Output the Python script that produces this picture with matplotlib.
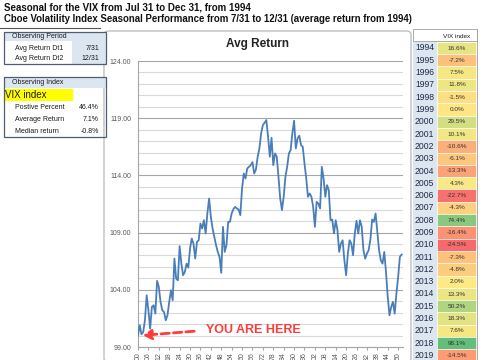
import matplotlib
matplotlib.use("Agg")
import matplotlib.pyplot as plt
import matplotlib.patches as mpatches
import numpy as np
from matplotlib.colors import LinearSegmentedColormap

# ---------------- data ----------------
avg_return = [
    100.02, 100.90, 100.11, 100.31, 101.33, 103.52, 102.21, 100.60, 102.50, 102.65,
    101.92, 104.78, 104.25, 102.94, 102.21, 102.06, 101.33, 101.77, 102.94, 103.96,
    103.08, 106.73, 104.98, 104.83, 107.81, 106.29, 105.27, 105.56, 106.29, 105.94,
    107.61, 108.48, 108.04, 106.73, 108.19, 108.33, 109.79, 109.36, 110.08, 108.92,
    110.67, 111.98, 110.38, 109.36, 108.63, 107.90, 107.31, 106.88, 105.48, 109.50,
    107.31, 107.90, 109.94, 109.94, 110.67, 111.05, 111.25, 111.11, 111.02, 110.52,
    112.86, 114.17, 113.73, 114.61, 114.75, 114.90, 115.16, 114.17, 114.52, 115.63,
    116.36, 117.67, 118.40, 118.60, 118.84, 117.38, 115.63, 117.29, 114.90, 115.92,
    115.63, 113.88, 111.98, 110.96, 112.13, 113.88, 114.75, 115.92, 116.21, 117.67,
    118.78, 116.36, 117.23, 117.47, 116.65, 116.50, 115.04, 113.73, 112.13, 112.42,
    112.13, 111.25, 109.50, 111.69, 111.54, 111.11, 114.75, 113.73, 112.13, 113.15,
    112.71, 110.08, 110.14, 108.92, 110.08, 109.21, 107.31, 108.04, 108.33, 106.58,
    105.27, 107.17, 108.33, 108.04, 107.02, 108.92, 110.03, 108.92, 110.08, 109.50,
    107.46, 106.73, 107.17, 107.46, 108.39, 110.14, 109.94, 110.67, 109.06, 107.46,
    106.58, 106.29, 107.31, 105.56, 103.38, 101.77, 102.50, 102.94, 101.92, 103.67,
    105.13, 106.88, 107.08,
]
x_tick_labels = ["00", "06", "12", "18", "24", "30", "36", "42", "48", "54", "60", "66", "72",
                 "78", "84", "90", "96", "02", "08", "14", "20", "26", "32", "38", "44", "50"]
y_ticks = [99, 104, 109, 114, 119, 124]

years = list(range(1994, 2020))
vix_returns = [16.6, -7.2, 7.5, 11.8, -1.5, 0.0, 29.5, 10.1, -10.6, -6.1, -13.3, 4.3,
               -22.7, -4.3, 74.4, -16.4, -24.5, -7.3, -4.8, 2.0, 13.3, 50.2, 18.3,
               7.6, 98.1, -14.5]

period_rows = [("Avg Return Dt1", "7/31"), ("Avg Return Dt2", "12/31")]
index_rows = [("Postive Percent", "46.4%"), ("Average Return", "7.1%"), ("Median return", "-0.8%")]

title1 = "Seasonal for the VIX from Jul 31 to Dec 31, from 1994"
title2 = "Cboe Volatility Index Seasonal Performance from 7/31 to 12/31 (average return from 1994)"

# ---------------- figure ----------------
W, H = 485, 360
fig = plt.figure(figsize=(W / 100, H / 100), dpi=100)
fig.patch.set_facecolor("white")
FONT = ["Liberation Sans", "DejaVu Sans"]
plt.rcParams["font.family"] = FONT


def fx(x):
    return x / W


def fy(y):
    return 1 - y / H


def rect(x0, y0, x1, y1, fc="none", ec="none", lw=0.8, z=1):
    r = mpatches.Rectangle((fx(x0), fy(y1)), (x1 - x0) / W, (y1 - y0) / H,
                           transform=fig.transFigure, facecolor=fc, edgecolor=ec,
                           linewidth=lw, zorder=z)
    fig.add_artist(r)


def txt(x, y, s, size=6, ha="left", color="#1a1a1a", weight="normal", z=5):
    fig.text(fx(x), fy(y), s, fontsize=size, ha=ha, va="center", color=color,
             weight=weight, zorder=z)


# titles
txt(4, 7, title1, size=7.0, weight="bold", color="#111111")
txt(4, 19, title2, size=6.9, weight="bold", color="#111111")
fig.add_artist(plt.Line2D([fx(0), fx(100)], [fy(27.5), fy(27.5)], transform=fig.transFigure,
                          color="#555555", lw=0.8))

# left tables
LBLUE = "#dce6f1"
BORDER = "#4f5d73"
# table 1
rect(4, 32, 106, 41, fc=LBLUE)
rect(72, 41, 106, 64, fc=LBLUE)
rect(4, 32, 106, 64, ec=BORDER, lw=0.9, z=3)
txt(12, 36.5, "Observing Period", size=5.0)
for i, (lab, val) in enumerate(period_rows):
    yy = 49 + 10 * i
    txt(15, yy, lab, size=5.0)
    txt(99, yy, val, size=5.0, ha="right")
# table 2
rect(4, 77, 106, 88, fc=LBLUE)
rect(4, 89, 73, 101, fc="#ffff00")
rect(4, 77, 106, 137, ec=BORDER, lw=0.9, z=3)
txt(12, 83, "Observing Index", size=5.0)
txt(5, 95, "VIX index", size=7)
for i, (lab, val) in enumerate(index_rows):
    yy = 107 + 12.2 * i
    txt(15, yy, lab, size=5.0)
    txt(99, yy, val, size=5.0, ha="right")

# chart panel
panel = mpatches.FancyBboxPatch((fx(104), fy(362)), (411 - 104) / W, (362 - 31) / H,
                                boxstyle="round,pad=0,rounding_size=0.01",
                                transform=fig.transFigure, facecolor="white",
                                edgecolor="#bfbfbf", linewidth=1.0, zorder=-1)
fig.add_artist(panel)
txt(257, 44, "Avg Return", size=8.5, ha="center", weight="bold", color="#222222")

ax = fig.add_axes([fx(138), fy(347), (403 - 138) / W, (347 - 61) / H])
ax.set_zorder(2)
ax.set_facecolor("none")
xs = np.arange(len(avg_return))
ax.plot(xs, avg_return, color="#4a7ebb", lw=1.3, zorder=3)
ax.set_ylim(99, 124)
ax.set_xlim(0, len(avg_return) - 0.2)
ax.set_yticks(y_ticks)
ax.set_yticklabels([f"{v:.2f}" for v in y_ticks])
ax.set_yticks(np.arange(99, 125, 1), minor=True)
ax.grid(axis="y", which="major", color="#a6a6a6", lw=0.8)
ax.grid(axis="y", which="minor", color="#d9d9d9", lw=0.8)
ax.set_xticks(np.arange(0, len(avg_return), 6))
ax.set_xticklabels(x_tick_labels[:len(ax.get_xticks())], rotation=90)
ax.tick_params(axis="y", which="both", length=0, labelsize=5, labelcolor="#595959", pad=5)
ax.tick_params(axis="x", length=2, color="#a6a6a6", labelsize=5, labelcolor="#595959", pad=2)
for s in ["top", "right"]:
    ax.spines[s].set_visible(False)
ax.spines["left"].set_color("#a6a6a6")
ax.spines["bottom"].set_color("#a6a6a6")

# YOU ARE HERE annotation
ax.annotate("", xy=(1.2, 100.0), xytext=(34, 100.4),
            arrowprops=dict(arrowstyle="-|>,head_length=0.5,head_width=0.3", color="#ff3b3b",
                            lw=2, linestyle=(0, (3, 1.5))), zorder=4)
ax.text(39, 100.45, "YOU ARE HERE", color="#ff3b3b", fontsize=9, weight="bold",
        va="center", ha="left")

# right table
cmap = LinearSegmentedColormap.from_list("ryg", ["#f8696b", "#ffeb84", "#63be7b"])
vals = np.array(vix_returns)
vmin, vmax, vmid = vals.min(), vals.max(), np.median(vals)


def color_for(v):
    if v <= vmid:
        t = 0.5 * (v - vmin) / (vmid - vmin)
    else:
        t = 0.5 + 0.5 * (v - vmid) / (vmax - vmid)
    return cmap(t)


rect(413, 29, 477, 41, fc="white", ec="#a0a0a0", lw=0.6)
txt(457, 36, "VIX index", size=4.6, ha="center")
row_h = 12.3
for i, (yr, v) in enumerate(zip(years, vix_returns)):
    yc = 48 + row_h * i
    rect(413, yc - row_h / 2, 437, yc + row_h / 2, fc=LBLUE)
    rect(437, yc - row_h / 2, 476, yc + row_h / 2, fc=color_for(v), ec="white", lw=0.4)
    txt(415, yc, str(yr), size=6.2, color="#1f2a44")
    txt(457, yc, f"{v:.1f}%", size=4.6, ha="center", color="#333333")
fig.add_artist(plt.Line2D([fx(477), fx(477)], [fy(29), fy(360)], transform=fig.transFigure,
                          color="#a0a0a0", lw=0.6))

fig.savefig("out.png", dpi=100)
